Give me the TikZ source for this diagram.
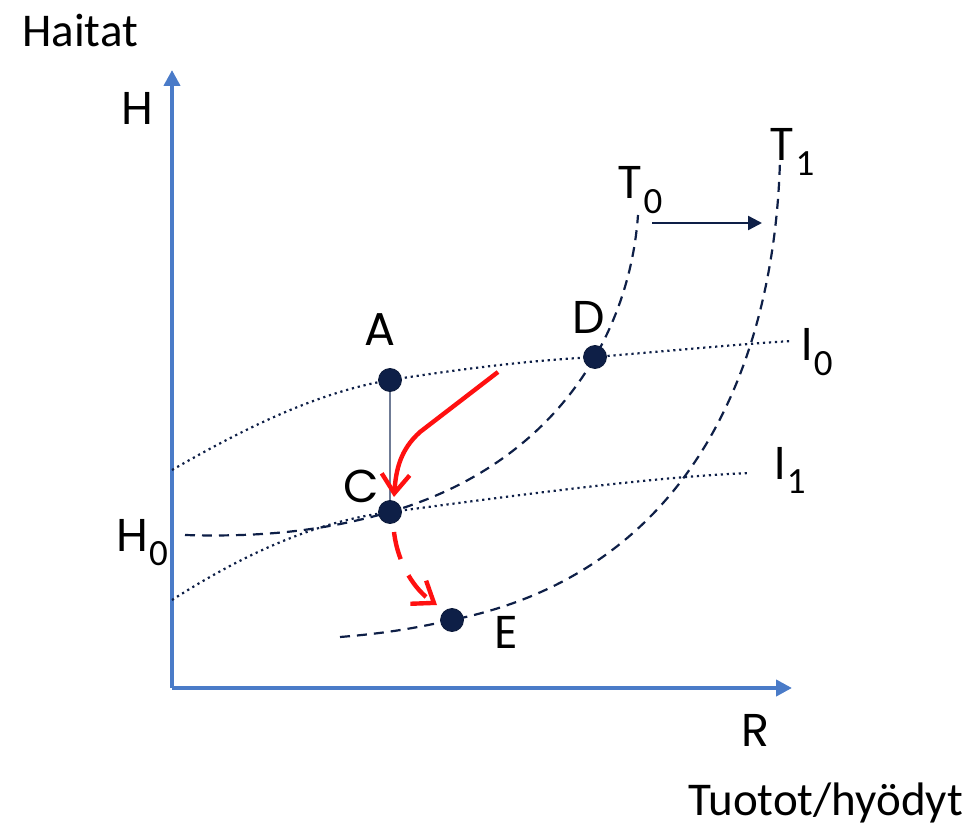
\documentclass[tikz,border=0pt]{standalone}
\usepackage{fontspec}
\setsansfont{Poppins}
\newfontfamily\carl{Carlito}
\usepackage{tikz}
\usetikzlibrary{positioning,arrows.meta,calc}
\definecolor{axisblue}{HTML}{4A7BC8}
\definecolor{navy}{HTML}{0E1F47}
\definecolor{acgray}{HTML}{6F7B95}
\definecolor{shiftred}{HTML}{FF1010}
% letter with a subscript in the narrow face
\newcommand{\sublbl}[2]{#1\kern0.5pt\raisebox{-0.32em}{\carl\fontsize{18.5}{18.5}\selectfont #2}}

\begin{document}
\begin{tikzpicture}[
  x=0.5pt, y=-0.5pt,
  font=\sffamily\fontsize{23}{23}\selectfont,
  axis/.style={draw=axisblue, line width=2pt, -{Triangle[length=8pt, width=8pt]}},
  tcurve/.style={draw=navy, line width=1.1pt, dash pattern=on 5pt off 3.5pt},
  icurve/.style={draw=navy, line width=1.1pt, dash pattern=on 1.1pt off 1.9pt},
  dot/.style={circle, fill=navy, draw=navy!80!black, minimum size=11.5pt, inner sep=0pt},
  lbl/.style={inner sep=0pt, anchor=base},
  words/.style={inner sep=0pt, font=\carl\fontsize{23.5}{23.5}\selectfont, anchor=base west},
  move/.style={draw=shiftred, line width=2.2pt, -{Straight Barb[length=9.5pt, width=14pt, line width=2.2pt]}},
  shiftarrow/.style={draw=navy, line width=1.2pt, -{Triangle[length=7pt, width=7pt]}}
]
\useasboundingbox (0,0) rectangle (974,828);
% ---------- axes ----------
\coordinate (O) at (172,688);
\coordinate (ytop) at (172,70);
\coordinate (xend) at (792,688);
\draw[axis] (O) -- (ytop);
\draw[axis] (O) -- (xend);
\node[words] (haitat) at (22,47) {Haitat};
\node[words] (tuotot) at (688,815) {Tuotot/hyödyt};
\node[lbl] (hlbl) at (137,125) {H};
\node[lbl] (rlbl) at (755,746) {R};
\node[lbl] (h0) at (142,551) {\sublbl{H}{0}};

% ---------- points ----------
\node[dot] (A) at (390,380) {};
\node[dot] (C) at (390,512) {};
\node[dot] (D) at (595,357) {};
\node[dot] (E) at (452,620) {};
\node[lbl] (Alab) at (380,346) {A};
\node[lbl] (Clab) at (361,502) {C};
\node[lbl] (Dlab) at (589,334) {D};
\node[lbl] (Elab) at (506,648) {E};

% ---------- indifference curves ----------
\coordinate (i0a) at (172,470);
\coordinate (i0b) at (792,341);
\coordinate (i1a) at (172,600);
\coordinate (i1b) at (750,473);
\draw[icurve] (i0a) .. controls (250,425) and (320,392) .. (A.center)
  .. controls (480,366) and (540,360) .. (D.center)
  .. controls (680,350) and (740,344) .. (i0b);
\draw[icurve] (i1a) .. controls (250,550) and (320,521) .. (C.center)
  .. controls (520,495) and (650,477) .. (i1b);
\node[lbl] (I0) at (817,361) {\sublbl{I}{0}};
\node[lbl] (I1) at (790,479) {\sublbl{I}{1}};

% ---------- transformation curves ----------
\coordinate (t0a) at (185,535);
\coordinate (t0b) at (638,215);
\coordinate (t1a) at (340,637);
\coordinate (t1b) at (780,160);
\draw[tcurve] (t0a) .. controls (280,538) and (340,526) .. (C.center)
  .. controls (560,462) and (630,330) .. (t0b);
\draw[tcurve] (t1a) .. controls (390,633) and (420,627) .. (E.center)
  .. controls (700,570) and (775,350) .. (t1b);
\node[lbl] (T0) at (640,199) {\sublbl{T}{0}};
\node[lbl] (T1) at (792,161) {\sublbl{T}{1}};
\coordinate (shs) at (652,223);
\coordinate (she) at (762,223);
\draw[shiftarrow] (shs) -- (she);

% ---------- moves ----------
\draw[draw=acgray, line width=0.6pt] (A) -- (C);
\coordinate (m1) at (498,372);
\coordinate (m2) at (394,497);
\draw[move] (m1) -- (420,432) .. controls (400,450) and (396,470) .. (m2);
\coordinate (m3) at (394,532);
\coordinate (m4) at (437,605);
\draw[move, dash pattern=on 14pt off 9pt] (m3) .. controls (398,565) and (415,590) .. (m4);
\end{tikzpicture}
\end{document}
